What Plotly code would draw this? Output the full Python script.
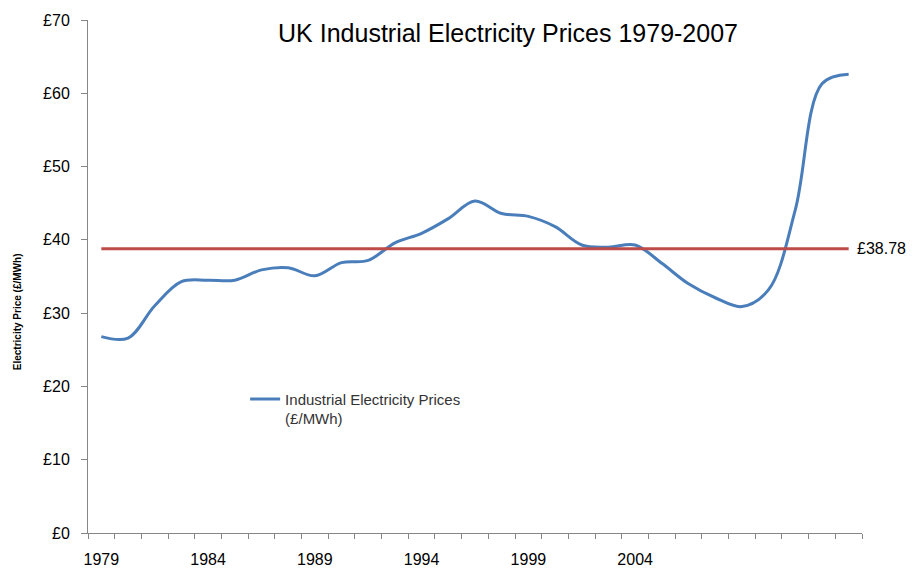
import plotly.graph_objects as go

# ---- data ----
periods = list(range(29))  # 29 category slots shown on the axis
prices = [26.8, 26.6, 31.0, 34.3, 34.5, 34.5, 35.9, 36.2, 35.1, 36.9,
          37.2, 39.6, 40.9, 42.9, 45.3, 43.6, 43.2, 41.8, 39.3, 39.0,
          39.3, 36.8, 34.0, 32.1, 30.9, 33.2, 44.1, 61.3, 62.6]
average_price = 38.78
tick_positions = [0, 4, 8, 12, 16, 20]
tick_labels = ["1979", "1984", "1989", "1994", "1999", "2004"]
y_ticks = [0, 10, 20, 30, 40, 50, 60, 70]
y_tick_labels = ["£0", "£10", "£20", "£30", "£40", "£50", "£60", "£70"]

FONT = "Liberation Sans, Arial, sans-serif"
AXIS_COLOR = "#868686"

fig = go.Figure()
fig.add_trace(go.Scatter(
    x=periods, y=prices, mode="lines",
    line=dict(color="#4A7EBB", width=3, shape="spline", smoothing=1.0),
    name="Industrial Electricity Prices<br>(£/MWh)",
))
fig.add_trace(go.Scatter(
    x=periods, y=[average_price] * len(periods), mode="lines",
    line=dict(color="#BE4B48", width=3),
    showlegend=False, name="Average",
))

fig.add_annotation(
    x=periods[-1], y=average_price, xref="x", yref="y",
    text=f"£{average_price:.2f}", showarrow=False,
    xanchor="left", yanchor="middle", xshift=6,
    font=dict(family=FONT, size=16, color="#000000"),
)
fig.add_annotation(
    x=-0.09, y=0.431, xref="paper", yref="paper",
    xanchor="center", yanchor="middle",
    text="<b>Electricity Price (£/MWh)</b>", showarrow=False, textangle=-90,
    font=dict(family=FONT, size=10, color="#000000"),
)

fig.update_layout(
    width=921, height=569,
    margin=dict(l=88, r=59, t=20, b=36, autoexpand=False),
    paper_bgcolor="white", plot_bgcolor="white",
    title=dict(text="UK Industrial Electricity Prices 1979-2007",
               x=0.5516, xanchor="center", y=0.942, yanchor="middle",
               font=dict(family=FONT, size=25, color="#000000")),
    font=dict(family=FONT),
    showlegend=True,
    legend=dict(x=0.203, y=0.293, xanchor="left", yanchor="top",
                bgcolor="rgba(0,0,0,0)", itemwidth=30, valign="top",
                font=dict(family=FONT, size=15, color="#333333"),
                tracegroupgap=0),
    xaxis=dict(
        range=[-0.5, 28.5], showgrid=False, zeroline=False, automargin=False,
        showline=True, linecolor=AXIS_COLOR, linewidth=1,
        tickmode="array", tickvals=tick_positions, ticktext=tick_labels,
        ticks="", ticklabelstandoff=12,
        tickfont=dict(family=FONT, size=16, color="#000000"),
        minor=dict(tickmode="linear", tick0=-0.5, dtick=1, ticks="outside",
                   ticklen=5, tickcolor=AXIS_COLOR, tickwidth=1, showgrid=False),
    ),
    yaxis=dict(
        range=[0, 70], showgrid=False, zeroline=False, automargin=False,
        showline=True, linecolor=AXIS_COLOR, linewidth=1,
        tickmode="array", tickvals=y_ticks, ticktext=y_tick_labels,
        ticks="outside", ticklen=6, tickcolor=AXIS_COLOR, ticklabelstandoff=8,
        tickfont=dict(family=FONT, size=16, color="#000000"),
    ),
)

fig.write_html("out.html", config={"displayModeBar": False},
               post_script="document.body.style.margin='0';document.body.style.padding='0';")
